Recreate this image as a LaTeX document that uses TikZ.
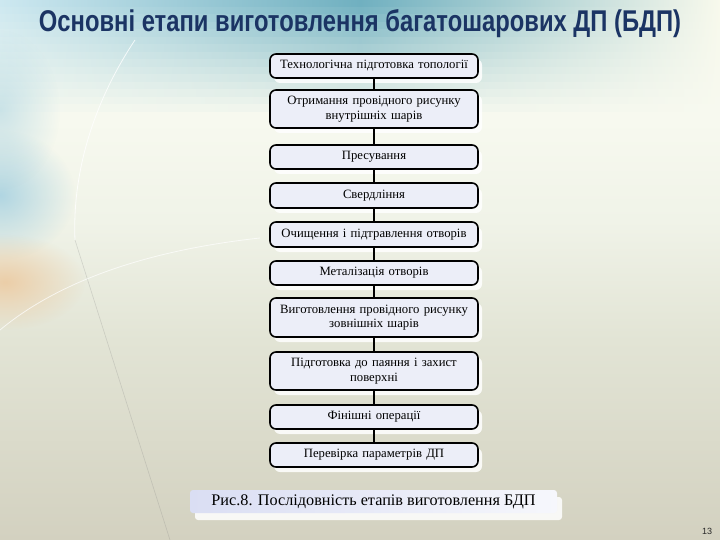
\documentclass[tikz,border=0pt]{standalone}
\usepackage{fontspec}
\setmainfont{Liberation Serif}
\newfontfamily\titlefont{Liberation Sans}
\usetikzlibrary{shadows,fadings}
\tikzfading[name=softcirc, inner color=transparent!0, outer color=transparent!100]
\definecolor{bgmid}{RGB}{240,243,232}
\definecolor{bglow}{RGB}{226,228,213}
\definecolor{bgbot}{RGB}{211,209,192}
\definecolor{teal1}{RGB}{112,176,192}
\definecolor{tealL}{RGB}{205,232,240}
\definecolor{tealR}{RGB}{248,249,236}
\definecolor{creamc}{RGB}{247,249,239}
\definecolor{leftblue}{RGB}{160,206,224}
\definecolor{peach}{RGB}{236,206,168}
\definecolor{titleblue}{RGB}{27,52,100}
\definecolor{boxfill}{RGB}{236,238,248}
\definecolor{capL}{RGB}{218,222,243}
\definecolor{capR}{RGB}{246,247,252}
\pgfdeclareverticalshading{bgshade}{100bp}{color(0bp)=(bgbot); color(25bp)=(bgbot); color(43.5bp)=(bglow); color(54.6bp)=(bgmid); color(63.9bp)=(creamc); color(75bp)=(creamc); color(100bp)=(creamc)}
\begin{document}
\begin{tikzpicture}[x=1pt,y=-1pt,
  stepbox/.style={draw=black, line width=1.6pt, rounded corners=6pt, fill=boxfill,
    minimum width=208pt, minimum height=24pt, inner sep=2pt, align=center,
    text width=204pt, font=\fontsize{12.7}{14.5}\selectfont,
    general shadow={shadow xshift=4pt, shadow yshift=-5pt, fill=white, draw=none, opacity=0.85}},
  conn/.style={draw=black, line width=1.6pt}]
\useasboundingbox (0,0) rectangle (720,540);
% background
\fill[shading=bgshade] (0,0) rectangle (720,540);
\foreach \k in {0,...,15}{
  \pgfmathsetmacro\f{100-\k*100/15}
  \fill[left color=tealL!\f!creamc, right color=tealR!\f!creamc, middle color=teal1!\f!creamc]
    (0,\k*7.5) rectangle (720,\k*7.5+7.8);
}
\fill[leftblue, opacity=0.8, path fading=softcirc] (0,195) ellipse [x radius=75, y radius=65];
\fill[leftblue, opacity=0.5, path fading=softcirc] (0,110) ellipse [x radius=60, y radius=80];
\fill[peach, path fading=softcirc] (5,282) ellipse [x radius=80, y radius=48];
\draw[white, opacity=0.8, line width=0.8pt] (135,40) .. controls (95,100) and (72,170) .. (75,240);
\draw[gray, opacity=0.25, line width=0.6pt] (75,240) -- (170,540);
\draw[white, opacity=0.7, line width=0.8pt] (0,330) .. controls (60,280) and (150,250) .. (260,238);
% title
\node[anchor=base, text=titleblue, inner sep=0pt] (title) at (360,32)
  {\resizebox{642pt}{22pt}{\titlefont\bfseries Основні етапи виготовлення багатошарових ДП (БДП)}};
% steps
\node[stepbox] (b1) at (374,66) {Технологічна підготовка топології};
\node[stepbox, minimum height=38pt] (b2) at (374,109) {Отримання провідного рисунку\\внутрішніх шарів};
\node[stepbox] (b3) at (374,157) {Пресування};
\node[stepbox, minimum height=25pt] (b4) at (374,195.5) {Свердління};
\node[stepbox, minimum height=25pt] (b5) at (374,234.5) {Очищення і підтравлення отворів};
\node[stepbox] (b6) at (374,273) {Металізація отворів};
\node[stepbox, minimum height=39pt] (b7) at (374,317.5) {Виготовлення провідного рисунку\\зовнішніх шарів};
\node[stepbox, minimum height=38pt] (b8) at (374,371) {Підготовка до паяння і захист\\поверхні};
\node[stepbox] (b9) at (374,417) {Фінішні операції};
\node[stepbox] (b10) at (374,455) {Перевірка параметрів ДП};
\foreach \a/\b in {b1/b2,b2/b3,b3/b4,b4/b5,b5/b6,b6/b7,b7/b8,b8/b9,b9/b10}
  \draw[conn] (\a.south) -- (\b.north);
% caption
\node[left color=capL, right color=capR, rounded corners=3pt, minimum width=367pt, minimum height=23pt,
  inner sep=2pt, font=\fontsize{16.2}{18}\selectfont,
  general shadow={shadow xshift=5pt, shadow yshift=-7pt, fill=white, draw=none, opacity=0.85}]
  (cap) at (373.5,501.5) {Рис.8. Послідовність етапів виготовлення БДП};
% page number
\node[font=\titlefont\fontsize{9}{10}\selectfont, text={rgb,255:red,40;green,40;blue,40}, inner sep=0pt] (pg) at (707,531) {13};
\end{tikzpicture}
\end{document}
